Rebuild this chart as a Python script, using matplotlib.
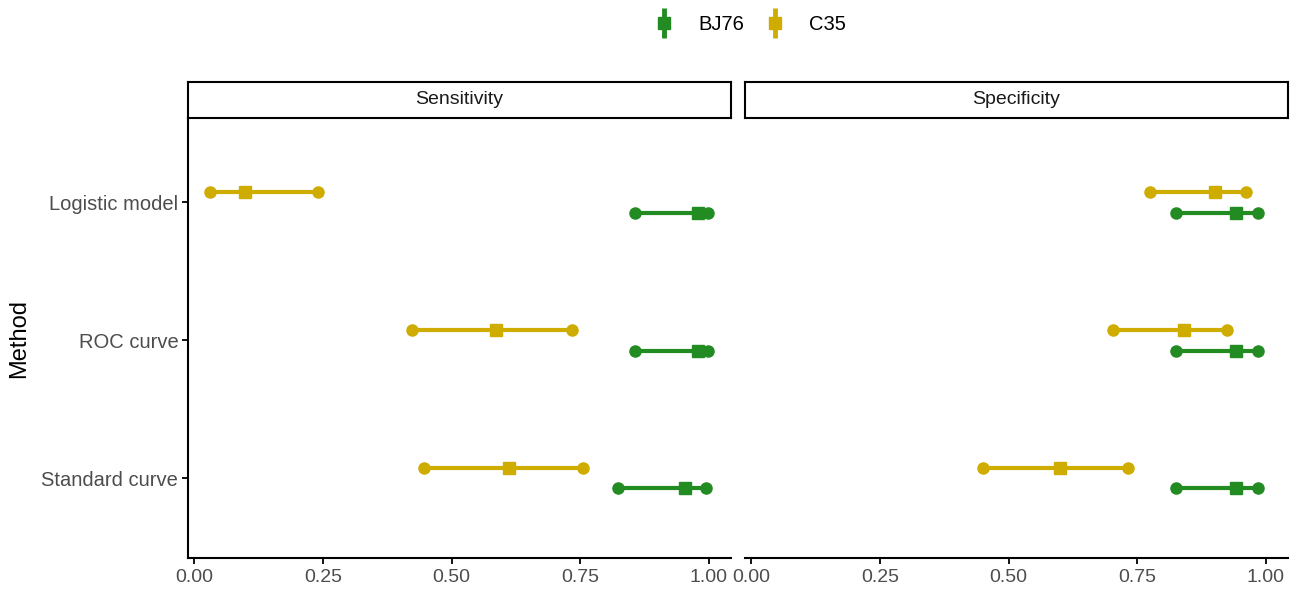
import numpy as np
import matplotlib
matplotlib.use("Agg")
import matplotlib.pyplot as plt
from matplotlib.lines import Line2D

plt.rcParams['font.family'] = ['Liberation Sans', 'DejaVu Sans']

# data
methods = ["Standard curve", "ROC curve", "Logistic model"]
panels = ["Sensitivity", "Specificity"]
groups = ["BJ76", "C35"]
colors = {"BJ76": "#228B22", "C35": "#CFAC00"}

# sensitivity (order: Standard curve, ROC curve, Logistic model)
sens_bj76_est = [0.953, 0.978, 0.978]
sens_bj76_low = [0.823, 0.857, 0.857]
sens_bj76_high = [0.994, 0.999, 0.999]
sens_c35_est = [0.612, 0.587, 0.099]
sens_c35_low = [0.446, 0.423, 0.031]
sens_c35_high = [0.755, 0.735, 0.241]

# specificity
spec_bj76_est = [0.941, 0.941, 0.941]
spec_bj76_low = [0.825, 0.825, 0.825]
spec_bj76_high = [0.985, 0.985, 0.985]
spec_c35_est = [0.600, 0.841, 0.901]
spec_c35_low = [0.451, 0.703, 0.774]
spec_c35_high = [0.733, 0.924, 0.962]

data = {
    "Sensitivity": {
        "BJ76": (sens_bj76_est, sens_bj76_low, sens_bj76_high),
        "C35": (sens_c35_est, sens_c35_low, sens_c35_high),
    },
    "Specificity": {
        "BJ76": (spec_bj76_est, spec_bj76_low, spec_bj76_high),
        "C35": (spec_c35_est, spec_c35_low, spec_c35_high),
    },
}

dodge = {"BJ76": -0.076, "C35": 0.076}
tick_gray = "#4D4D4D"

fig = plt.figure(figsize=(13, 5.9), dpi=100)

W, H = 1300.0, 590.0
panel_x = [188, 745]
panel_w = 543
y_bottom, y_top = 558, 118
strip_top = 82

ypos = np.arange(1, len(methods) + 1)

for i, panel in enumerate(panels):
    ax = fig.add_axes([panel_x[i] / W, 1 - y_bottom / H, panel_w / W, (y_bottom - y_top) / H])
    for g in groups:
        est, low, high = data[panel][g]
        y = ypos + dodge[g]
        ax.hlines(y, low, high, color=colors[g], lw=3, zorder=2)
        ax.plot(low, y, "o", color=colors[g], ms=8, zorder=3)
        ax.plot(high, y, "o", color=colors[g], ms=8, zorder=3)
        ax.plot(est, y, "s", color=colors[g], ms=8.5, zorder=4)

    ax.set_xlim(-0.012, 1.043)
    ax.set_ylim(0.42, 3.61)
    ax.set_xticks([0, 0.25, 0.5, 0.75, 1.0])
    ax.set_xticklabels(["0.00", "0.25", "0.50", "0.75", "1.00"])
    ax.tick_params(axis="x", colors="black", labelcolor=tick_gray, labelsize=14,
                   length=4, width=1.3, pad=4)
    for s in ["top", "right"]:
        ax.spines[s].set_visible(False)
    ax.spines["bottom"].set_linewidth(1.5)

    if i == 0:
        ax.set_yticks(ypos)
        ax.set_yticklabels(methods)
        ax.tick_params(axis="y", colors="black", labelcolor=tick_gray, labelsize=14.5,
                       length=4, width=1.3, pad=3)
        ax.spines["left"].set_linewidth(1.5)
        ax.set_ylabel("Method", fontsize=17, labelpad=8)
    else:
        ax.set_yticks([])
        ax.spines["left"].set_visible(False)

    # facet strip
    sax = fig.add_axes([panel_x[i] / W, 1 - y_top / H, panel_w / W, (y_top - strip_top) / H])
    sax.set_xticks([])
    sax.set_yticks([])
    for s in sax.spines.values():
        s.set_linewidth(1.5)
    sax.text(0.5, 0.5, panel, ha="center", va="center", fontsize=14, color="#1A1A1A",
             transform=sax.transAxes)

# legend with pointrange-like keys
handles = []
for g in groups:
    vline = Line2D([], [], color=colors[g], marker="|", ms=22, mew=3.5, ls="none")
    sq = Line2D([], [], color=colors[g], marker="s", ms=8, ls="none")
    handles.append((vline, sq))
fig.legend(handles, groups, loc="center", bbox_to_anchor=(750 / W, 1 - 25 / H), ncol=2,
           frameon=False, fontsize=14.5, handlelength=1.0, columnspacing=1.0,
           handletextpad=1.2)

fig.savefig("out.png", dpi=100)
